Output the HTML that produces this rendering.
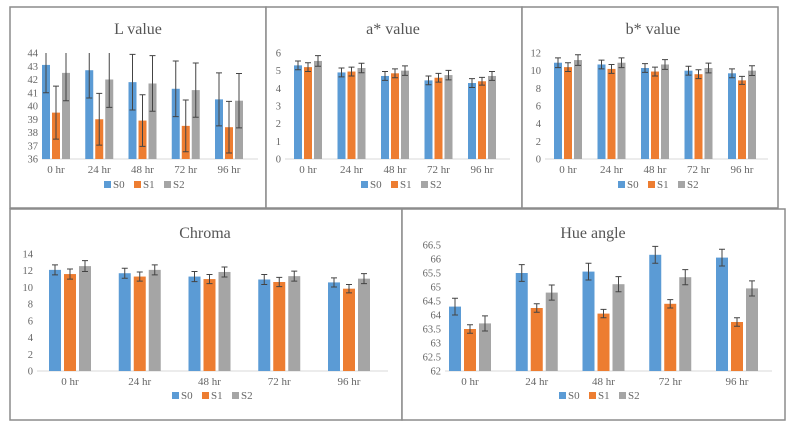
<!DOCTYPE html>
<html><head><meta charset="utf-8"><style>
body{margin:0;background:#fff;}
svg{display:block;font-family:"Liberation Serif",serif;}
</style></head><body>
<svg id="c" width="793" height="430" viewBox="0 0 793 430"></svg>
<script>
const categories = ["0 hr","24 hr","48 hr","72 hr","96 hr"];
const seriesNames = ["S0","S1","S2"];
const lS0=[43.1,42.7,41.8,41.3,40.5], lS1=[39.5,39.0,38.9,38.5,38.4], lS2=[42.5,42.0,41.7,41.2,40.4];
const lErr=[[2.1,2.1,2.1,2.1,2.0],[2.0,1.95,1.95,1.95,1.95],[2.1,2.1,2.1,2.05,2.05]];
const lTicks=[36,37,38,39,40,41,42,43,44];
const aS0=[5.3,4.9,4.7,4.45,4.3], aS1=[5.2,4.95,4.85,4.6,4.4], aS2=[5.55,5.15,5.0,4.75,4.7];
const aErr=[[0.25,0.25,0.25,0.25,0.25],[0.25,0.25,0.25,0.25,0.22],[0.3,0.27,0.27,0.27,0.25]];
const aTicks=[0,1,2,3,4,5,6];
const bS0=[10.9,10.7,10.3,10.0,9.7], bS1=[10.4,10.2,9.9,9.6,8.9], bS2=[11.2,10.9,10.7,10.3,10.0];
const bErr=[[0.55,0.5,0.5,0.5,0.5],[0.5,0.5,0.5,0.5,0.45],[0.6,0.55,0.55,0.55,0.55]];
const bTicks=[0,2,4,6,8,10,12];
const cS0=[12.1,11.7,11.3,10.95,10.6], cS1=[11.6,11.3,11.0,10.65,9.85], cS2=[12.55,12.1,11.85,11.35,11.05];
const cErr=[[0.6,0.6,0.6,0.6,0.55],[0.6,0.55,0.55,0.55,0.5],[0.65,0.6,0.6,0.6,0.6]];
const cTicks=[0,2,4,6,8,10,12,14];
const hS0=[64.3,65.5,65.55,66.15,66.05], hS1=[63.5,64.25,64.05,64.4,63.75], hS2=[63.7,64.8,65.1,65.35,64.95];
const hErr=[[0.3,0.3,0.3,0.3,0.3],[0.15,0.15,0.15,0.15,0.15],[0.27,0.27,0.27,0.27,0.27]];
const hTicks=[62,62.5,63,63.5,64,64.5,65,65.5,66,66.5];

const colors=["#5b9bd5","#ed7d31","#a5a5a5"];
const NS="http://www.w3.org/2000/svg";
const svg=document.getElementById('c');
function mk(tag,attrs,parent){const e=document.createElementNS(NS,tag);for(const k in attrs)e.setAttribute(k,attrs[k]);(parent||svg).appendChild(e);return e;}

function chart(o){
  const g=mk('g',{});
  
  
  const fr=mk('rect',{x:o.bx,y:o.by,width:o.bw,height:o.bh,fill:'#fff',stroke:'#8c8c8c','stroke-width':1.5},g);
  
  
  const t=mk('text',{x:o.tx,y:o.ty,'text-anchor':'middle','font-size':16,fill:'#555'},g);
  t.textContent=o.title;
  
  
  const ticks=o.ticks, ymin=ticks[0], ymax=ticks[ticks.length-1];
  const y=v=>o.y0+(o.y1-o.y0)*(Math.min(Math.max(v,ymin),ymax)-ymin)/(ymax-ymin);
  ticks.forEach(tv=>{
    const tl=mk('text',{x:o.ax-4,y:y(tv)+3.5,'text-anchor':'end','font-size':10.5,fill:'#666'},g);
    tl.textContent=String(tv);
    
    
  });
  const ax=mk('line',{x1:o.ax,x2:o.axr,y1:o.y0,y2:o.y0,stroke:'#d9d9d9','stroke-width':1},g);
  
  
  const n=categories.length, step=(o.c4-o.c0)/(n-1);
  const x=i=>o.c0+i*step;
  categories.forEach((c,i)=>{
    const xl=mk('text',{x:x(i),y:o.y0+14,'text-anchor':'middle','font-size':11,fill:'#666'},g);
    xl.textContent=c;
    
    
    o.series.forEach((s,k)=>{
      const cx=x(i)+(k-1)*(o.bwid+o.gap);
      const top=y(s[i]);
      const b=mk('rect',{x:cx-o.bwid/2,y:top,width:o.bwid,height:o.y0-top,fill:colors[k]},g);
      
      
      const e=o.err[k][i], yt=y(s[i]+e), yb=y(s[i]-e);
      const eb=mk('path',{d:`M${cx},${yt}V${yb}M${cx-3},${yb}H${cx+3}`+(s[i]+e<=ymax?`M${cx-3},${yt}H${cx+3}`:''),stroke:'#444','stroke-width':1,fill:'none'},g);
      
      
    });
  });
  let lx=o.lx;
  seriesNames.forEach((sn,k)=>{
    const lg=mk('g',{},g);
    
    
    mk('rect',{x:lx,y:o.ly-6,width:7,height:7,fill:colors[k]},lg);
    const lt=mk('text',{x:lx+9,y:o.ly+1,'font-size':11,fill:'#666'},lg);
    lt.textContent=sn;
    lx+=30;
  });
}

chart({name:'l-value',title:'L value',bx:10,by:7,bw:256,bh:201,tx:138,ty:34,ticks:lTicks,y0:159,y1:53,ax:42,axr:258,c0:56,c4:229,bwid:8,gap:2,series:[lS0,lS1,lS2],err:lErr,lx:104,ly:187});
chart({name:'a-value',title:'a* value',bx:266,by:7,bw:256,bh:201,tx:393,ty:34,ticks:aTicks,y0:159,y1:53,ax:285,axr:510,c0:308,c4:482,bwid:8,gap:2,series:[aS0,aS1,aS2],err:aErr,lx:361,ly:187});
chart({name:'b-value',title:'b* value',bx:522,by:7,bw:256,bh:201,tx:653,ty:34,ticks:bTicks,y0:159,y1:53,ax:545,axr:768,c0:568,c4:742,bwid:8,gap:2,series:[bS0,bS1,bS2],err:bErr,lx:618,ly:187});
chart({name:'chroma',title:'Chroma',bx:10,by:209,bw:392,bh:211,tx:205,ty:238,ticks:cTicks,y0:371,y1:254,ax:37,axr:388,c0:70,c4:349,bwid:12,gap:3,series:[cS0,cS1,cS2],err:cErr,lx:172,ly:398});
chart({name:'hue-angle',title:'Hue angle',bx:402,by:209,bw:383,bh:211,tx:593,ty:238,ticks:hTicks,y0:371,y1:245,ax:445,axr:772,c0:470,c4:737,bwid:12,gap:3,series:[hS0,hS1,hS2],err:hErr,lx:559,ly:398});
</script>
</body></html>
